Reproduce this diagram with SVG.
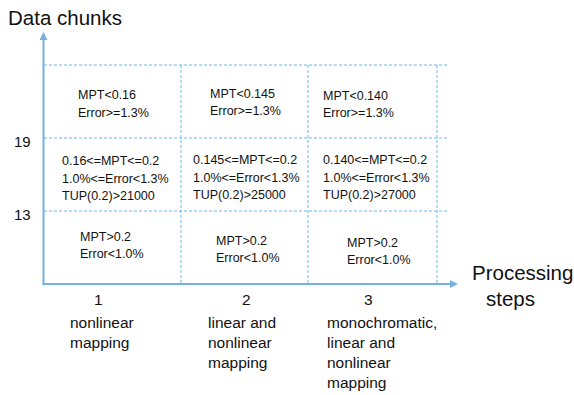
<svg xmlns="http://www.w3.org/2000/svg" width="574" height="395" viewBox="0 0 574 395">
<style>
.ax{stroke:#74b0e0;stroke-width:2;fill:none}
.grid{stroke:#6cb6ea;stroke-width:1;stroke-dasharray:3,2;fill:none}
text{font-family:"Liberation Sans","Open Sans",sans-serif;fill:#111}
.c{font-size:12.5px}
.b{font-size:15.5px}
.n{font-size:15px}
.big{font-size:20.5px}
</style>
<defs>
<marker id="ah" markerWidth="8" markerHeight="8" refX="6" refY="4" orient="auto" markerUnits="userSpaceOnUse">
<path d="M0,0 L8,4 L0,8 Z" fill="#74b0e0"/>
</marker>
</defs>
<rect width="574" height="395" fill="#fff"/>
<g id="connectors">
<line class="grid" x1="44" y1="65" x2="447" y2="65"/>
<line class="grid" x1="44" y1="138" x2="447" y2="138"/>
<line class="grid" x1="44" y1="211" x2="447" y2="211"/>
<line class="grid" x1="181" y1="65" x2="181" y2="284"/>
<line class="grid" x1="308" y1="65" x2="308" y2="284"/>
<line class="grid" x1="437" y1="65" x2="437" y2="284"/>
<line class="ax" x1="43.5" y1="285" x2="43.5" y2="34" marker-end="url(#ah)"/>
<line class="ax" x1="42.5" y1="284" x2="456" y2="284" marker-end="url(#ah)"/>
</g>
<g id="axis-labels">
<text class="big" x="8" y="25">Data chunks</text>
<text class="big" x="472" y="280">Processing</text>
<text class="big" x="486" y="306">steps</text>
<text class="n" x="14" y="147">19</text>
<text class="n" x="14" y="220">13</text>
</g>
<g id="cell-1-1"><text class="c" x="78" y="99">MPT&lt;0.16</text><text class="c" x="78" y="117">Error&gt;=1.3%</text></g>
<g id="cell-2-1"><text class="c" x="210" y="98">MPT&lt;0.145</text><text class="c" x="210" y="115">Error&gt;=1.3%</text></g>
<g id="cell-3-1"><text class="c" x="323" y="100">MPT&lt;0.140</text><text class="c" x="323" y="117">Error&gt;=1.3%</text></g>
<g id="cell-1-2"><text class="c" x="62" y="165">0.16&lt;=MPT&lt;=0.2</text><text class="c" x="62" y="183">1.0%&lt;=Error&lt;1.3%</text><text class="c" x="62" y="200">TUP(0.2)&gt;21000</text></g>
<g id="cell-2-2"><text class="c" x="193" y="164">0.145&lt;=MPT&lt;=0.2</text><text class="c" x="193" y="182">1.0%&lt;=Error&lt;1.3%</text><text class="c" x="193" y="199">TUP(0.2)&gt;25000</text></g>
<g id="cell-3-2"><text class="c" x="323" y="164">0.140&lt;=MPT&lt;=0.2</text><text class="c" x="323" y="182">1.0%&lt;=Error&lt;1.3%</text><text class="c" x="323" y="199">TUP(0.2)&gt;27000</text></g>
<g id="cell-1-3"><text class="c" x="80" y="241">MPT&gt;0.2</text><text class="c" x="80" y="258">Error&lt;1.0%</text></g>
<g id="cell-2-3"><text class="c" x="216" y="245">MPT&gt;0.2</text><text class="c" x="216" y="262">Error&lt;1.0%</text></g>
<g id="cell-3-3"><text class="c" x="347" y="247">MPT&gt;0.2</text><text class="c" x="347" y="264">Error&lt;1.0%</text></g>
<g id="step-1"><text class="b" x="94" y="305">1</text><text class="b" x="70" y="328">nonlinear</text><text class="b" x="70" y="348">mapping</text></g>
<g id="step-2"><text class="b" x="242" y="305">2</text><text class="b" x="208" y="328">linear and</text><text class="b" x="208" y="348">nonlinear</text><text class="b" x="208" y="368">mapping</text></g>
<g id="step-3"><text class="b" x="364" y="305">3</text><text class="b" x="327" y="328">monochromatic,</text><text class="b" x="327" y="348">linear and</text><text class="b" x="327" y="368">nonlinear</text><text class="b" x="327" y="388">mapping</text></g>
</svg>
